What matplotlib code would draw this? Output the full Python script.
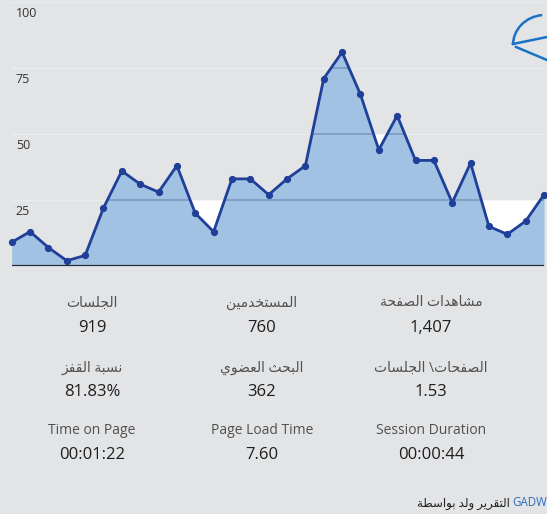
import numpy as np
import matplotlib
matplotlib.use('Agg')
import matplotlib.pyplot as plt
from matplotlib.lines import Line2D
from matplotlib.patches import Arc

# daily sessions for the month
days = list(range(1, 31))
sessions = [9, 13, 7, 2, 4, 22, 36, 31, 28, 38, 20, 13, 33, 33, 27,
            33, 38, 71, 81, 65, 44, 57, 40, 40, 24, 39, 15, 12, 17, 27]
y_ticks = [25, 50, 75, 100]

# (label, value) rows of the summary table, left to right
metric_labels = [
    ['الجلسات', 'المستخدمين', 'مشاهدات الصفحة'],
    ['نسبة القفز', 'البحث العضوي', 'الصفحات\\ الجلسات'],
    ['Time on Page', 'Page Load Time', 'Session Duration'],
]
metric_values = [
    ['919', '760', '1,407'],
    ['81.83%', '362', '1.53'],
    ['00:01:22', '7.60', '00:00:44'],
]
footer_ar = 'التقرير ولد بواسطة'
footer_brand = 'GADW'

# --- tiny arabic shaper (matplotlib has no text shaping) ---
AR = {'ا': 0xFE8D, 'ب': 0xFE8F, 'ة': 0xFE93, 'ت': 0xFE95, 'ث': 0xFE99,
      'ج': 0xFE9D, 'ح': 0xFEA1, 'خ': 0xFEA5, 'د': 0xFEA9, 'ذ': 0xFEAB,
      'ر': 0xFEAD, 'ز': 0xFEAF, 'س': 0xFEB1, 'ش': 0xFEB5, 'ص': 0xFEB9,
      'ض': 0xFEBD, 'ط': 0xFEC1, 'ظ': 0xFEC5, 'ع': 0xFEC9, 'غ': 0xFECD,
      'ف': 0xFED1, 'ق': 0xFED5, 'ك': 0xFED9, 'ل': 0xFEDD, 'م': 0xFEE1,
      'ن': 0xFEE5, 'ه': 0xFEE9, 'و': 0xFEED, 'ي': 0xFEF1}
RIGHT_ONLY = set('اةدذرزو')


def shape(text):
    if not any(c in AR for c in text):
        return text
    out = []
    for i, c in enumerate(text):
        if c not in AR:
            out.append(c)
            continue
        prev = text[i - 1] if i > 0 else ''
        nxt = text[i + 1] if i + 1 < len(text) else ''
        jp = prev in AR and prev not in RIGHT_ONLY
        jn = nxt in AR and c not in RIGHT_ONLY
        off = 3 if (jp and jn) else 1 if jp else 2 if jn else 0
        out.append(chr(AR[c] + off))
    return ''.join(out)[::-1]


FONT = ['Open Sans', 'DejaVu Sans']
BG = '#e3e4e6'
FILL = '#a2c2e4'
LINE = '#1f3f98'

fig = plt.figure(figsize=(5.47, 5.14), dpi=100)
fig.patch.set_facecolor(BG)

ax = fig.add_axes([11.7 / 547, 1 - 266 / 514, 532.3 / 547, 264 / 514])
ax.set_facecolor(BG)
x = np.array(days)
y = np.array(sessions)
ax.set_xlim(x[0], x[-1])
ax.set_ylim(0, 100)

# faint gridlines on the background
for t in y_ticks:
    ax.axhline(t, color='#ebecee', lw=1.0, zorder=1)

# white pockets seen in the reference under a gridline (drawn under the fill)
pockets = [(25, 10, 13), (50, 20, 22), (25, 26, 30)]
for level, a, b in pockets:
    m = (x >= a - 1) & (x <= b)
    ax.fill_between(x[m], np.minimum(y[m], level), level,
                    color='white', lw=0, zorder=1.5)

fill = ax.fill_between(x, 0, y, color=FILL, lw=0, zorder=2)

# gridlines inside the filled area
for t in y_ticks[:-1]:
    g = ax.axhline(t, color='#7e9dc0', lw=1.3, zorder=3)
    g.set_clip_path(fill.get_paths()[0], ax.transData)

ax.plot(x, y, color=LINE, lw=2.0, marker='o', ms=4.2, zorder=4,
        clip_on=False)
ax.axhline(0, color='#2a2a2a', lw=1.6, zorder=5)

for t in y_ticks:
    ax.annotate(str(t), xy=(0, t), xycoords=('axes fraction', 'data'),
                xytext=(3, -3.5), textcoords='offset points', ha='left', va='top',
                fontsize=9, color='#333333', family=FONT)

for s in ax.spines.values():
    s.set_visible(False)
ax.set_xticks([])
ax.set_yticks([])

# summary table
col_x = [92, 262, 431]
label_y = [303, 368, 430]
value_y = [328, 392, 455]
for r in range(3):
    for c in range(3):
        fig.text(col_x[c] / 547, 1 - label_y[r] / 514, shape(metric_labels[r][c]),
                 ha='center', va='center', fontsize=10, color='#505050',
                 family=FONT)
        fig.text(col_x[c] / 547, 1 - value_y[r] / 514, metric_values[r][c],
                 ha='center', va='center', fontsize=12, color='#1e1e1e',
                 family=FONT)

fig.text(510 / 547, 1 - 503 / 514, shape(footer_ar), ha='right', va='center',
         fontsize=8.5, color='#1e1e1e', family=FONT)
fig.text(512 / 547, 1 - 503 / 514, footer_brand, ha='left', va='center',
         fontsize=8.3, color='#2d6cc0', family=FONT)

# clipped logo in the top right corner
logo = '#1a72c6'
fig.add_artist(Arc((545 / 547, 1 - 45 / 514), 64 / 547, 60 / 514, theta1=95,
                   theta2=180, transform=fig.transFigure, color=logo, lw=1.8))
fig.add_artist(Line2D([513 / 547, 547 / 547], [1 - 44 / 514, 1 - 37 / 514],
                      transform=fig.transFigure, color=logo, lw=1.8))
fig.add_artist(Line2D([516 / 547, 547 / 547], [1 - 47 / 514, 1 - 60 / 514],
                      transform=fig.transFigure, color=logo, lw=1.8))

fig.savefig('out.png', dpi=100, facecolor=fig.get_facecolor())
